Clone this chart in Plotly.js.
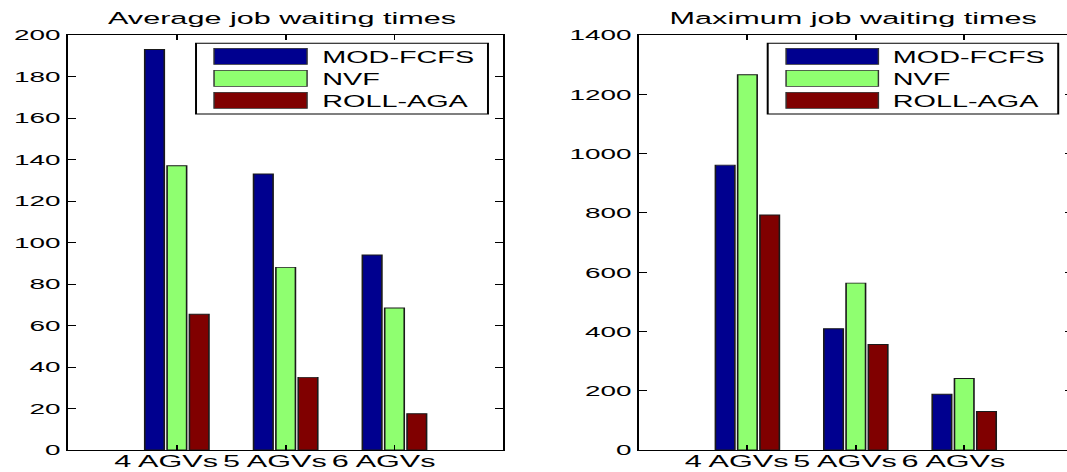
<!DOCTYPE html>
<html><head><meta charset="utf-8">
<script src="https://cdn.plot.ly/plotly-3.0.1.min.js"></script>
<style>
html,body{margin:0;padding:0;overflow:hidden;background:#fff;width:1067px;height:472px}
#wrap{width:600px;height:472px;transform:scaleX(1.8);transform-origin:0 0}
</style></head><body><div id="wrap"><div id="chart"></div></div>
<script>
// ---- data ----
const categories = ["4 AGVs", "5 AGVs", "6 AGVs"];
const categoryPositions = [1, 2, 3];
const seriesNames = ["MOD-FCFS", "NVF", "ROLL-AGA"];
const seriesColors = ["#00008F", "#8FFF70", "#800000"];
const avgModFcfs = [193, 133, 94];
const avgNvf = [137, 88, 68.4];
const avgRollAga = [65.4, 35, 17.5];
const maxModFcfs = [961, 409, 188];
const maxNvf = [1266, 563, 241];
const maxRollAga = [793, 356, 130];
const panelTitles = ["Average job waiting times", "Maximum job waiting times"];
const avgTickVals = [0, 20, 40, 60, 80, 100, 120, 140, 160, 180, 200];
const maxTickVals = [0, 200, 400, 600, 800, 1000, 1200, 1400];

// ---- layout helpers (unscaled px -> paper) ----
const W = 600, H = 472;
const px = v => v / W;
const py = v => 1 - v / H;
const FONT = "Liberation Sans, Arial, Helvetica, sans-serif";

const avgSeries = [avgModFcfs, avgNvf, avgRollAga];
const maxSeries = [maxModFcfs, maxNvf, maxRollAga];
const traces = [];
avgSeries.forEach((vals, i) => traces.push({
  type: "bar", x: categoryPositions, y: vals, name: seriesNames[i],
  xaxis: "x", yaxis: "y", showlegend: false,
  marker: {color: seriesColors[i], line: {color: "#1a1a1a", width: 0.9}}
}));
maxSeries.forEach((vals, i) => traces.push({
  type: "bar", x: categoryPositions, y: vals, name: seriesNames[i],
  xaxis: "x2", yaxis: "y2", showlegend: false,
  marker: {color: seriesColors[i], line: {color: "#1a1a1a", width: 0.9}}
}));

function xAxis(domain, anchor) {
  return {domain: domain, anchor: anchor, range: [0, 4], tickmode: "array",
    tickvals: categoryPositions, ticktext: categories, ticks: "inside", ticklen: 5,
    tickwidth: 1, tickcolor: "#000", mirror: "ticks", showline: true, linecolor: "#000",
    linewidth: 1.1, showgrid: false, zeroline: false, fixedrange: true,
    ticklabelposition: "outside", ticklabelshift: -6, ticklabelstandoff: -4,
    tickfont: {family: FONT, size: 17, color: "#000"}};
}
function yAxis(domain, anchor, range, vals) {
  return {domain: domain, anchor: anchor, range: range, tickmode: "array", tickvals: vals,
    ticks: "inside", ticklen: 4.5, tickwidth: 1, tickcolor: "#000", mirror: "ticks",
    showline: true, linecolor: "#000", linewidth: 1.1, showgrid: false, zeroline: false,
    fixedrange: true, ticklabelposition: "outside", ticklabelstandoff: 0,
    tickfont: {family: FONT, size: 15.5, color: "#000"}};
}
const yDom = [py(450), py(35)];

// legend drawn as shapes + annotations
const shapes = [], annotations = [];
const legends = [
  {box: [108.9, 271.1], sw: [118.9, 170.6], tx: 176.7},
  {box: [426.5, 587.9], sw: [436.7, 488.0], tx: 493.5}
];
const rowCenters = [56.3, 78.3, 100.3];
legends.forEach(L => {
  shapes.push({type: "rect", xref: "paper", yref: "paper", x0: px(L.box[0]), x1: px(L.box[1]),
    y0: py(43.3), y1: py(114), line: {color: "#000", width: 1.1}, fillcolor: "#fff", layer: "above"});
  seriesNames.forEach((n, i) => {
    shapes.push({type: "rect", xref: "paper", yref: "paper", x0: px(L.sw[0]), x1: px(L.sw[1]),
      y0: py(rowCenters[i] - 8), y1: py(rowCenters[i] + 8),
      line: {color: "#333", width: 0.8}, fillcolor: seriesColors[i], layer: "above"});
    annotations.push({xref: "paper", yref: "paper", x: px(L.tx), y: py(rowCenters[i] + 1),
      xanchor: "left", yanchor: "middle", text: n, showarrow: false,
      font: {family: FONT, size: 16, color: "#000"}});
  });
});
[156.4, 473.6].forEach((cx, i) => annotations.push({
  xref: "paper", yref: "paper", x: px(cx), y: py(30), xanchor: "center", yanchor: "bottom",
  text: panelTitles[i], showarrow: false, font: {family: FONT, size: 17, color: "#000"}}));

const layout = {
  width: W, height: H, margin: {l: 0, r: 0, t: 0, b: 0, pad: 0},
  paper_bgcolor: "#fff", plot_bgcolor: "#fff",
  barmode: "group", bargap: 0.384, bargroupgap: 0.125,
  xaxis: xAxis([px(37.8), px(279.6)], "y"),
  yaxis: yAxis(yDom, "x", [0, 200], avgTickVals),
  xaxis2: xAxis([px(355), px(595.9)], "y2"),
  yaxis2: yAxis(yDom, "x2", [0, 1400], maxTickVals),
  shapes: shapes, annotations: annotations, showlegend: false,
  font: {family: FONT, color: "#000"}
};
Plotly.newPlot("chart", traces, layout, {staticPlot: true, displayModeBar: false});
</script></body></html>
